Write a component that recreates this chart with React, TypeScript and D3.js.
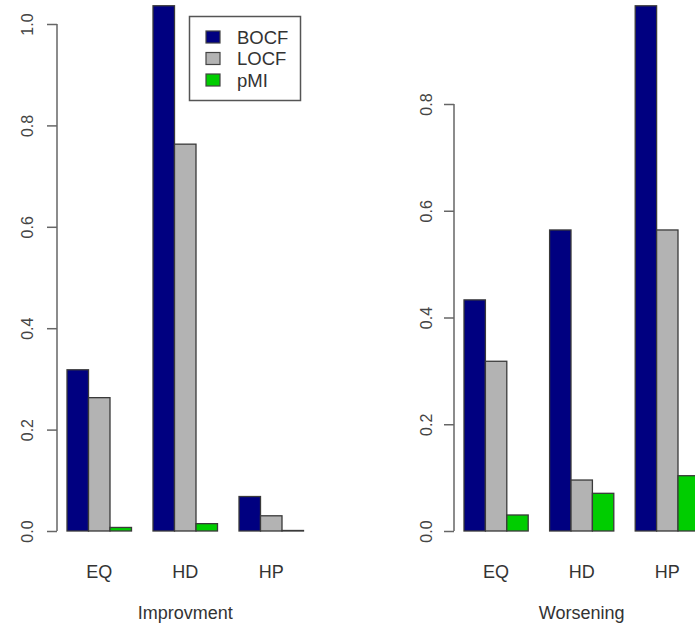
import { useEffect, useRef } from "react";
import * as d3 from "d3";

// values
const categories = ["EQ", "HD", "HP"];
const seriesNames = ["BOCF", "LOCF", "pMI"];
const seriesColors = ["#000080", "#b3b3b3", "#00cd00"];

const improvBOCF = [0.318, 1.036, 0.068];
const improvLOCF = [0.263, 0.763, 0.03];
const improvPMI = [0.007, 0.0145, 0.001];

const worsenBOCF = [0.433, 0.564, 0.984];
const worsenLOCF = [0.318, 0.0955, 0.564];
const worsenPMI = [0.03, 0.0706, 0.1036];

const leftTicks = [0, 0.2, 0.4, 0.6, 0.8, 1.0];
const rightTicks = [0, 0.2, 0.4, 0.6, 0.8];

const W = 695;
const H = 626;
const FONT = "'Liberation Sans', Arial, sans-serif";

function drawPanel(g, opts) {
  const { x0, x1, yTop, yMax, ticks, series, title, labelX, labelOff } = opts;
  const base = 531;

  // R barplot: groups of 3 bars separated by one bar width
  const x = d3.scaleLinear().domain([0, 12]).range([x0, x1]);
  const y = d3.scaleLinear().domain([0, yMax]).range([base, yTop]);

  const bars = [];
  categories.forEach((c, i) => {
    series.forEach((vals, j) => {
      bars.push({ start: 1 + i * 4 + j, value: vals[i], color: seriesColors[j] });
    });
  });

  g.append("g")
    .selectAll("rect")
    .data(bars)
    .join("rect")
    .attr("x", (d) => x(d.start))
    .attr("y", (d) => y(d.value))
    .attr("width", x(1) - x(0))
    .attr("height", (d) => base - y(d.value))
    .attr("fill", (d) => d.color)
    .attr("stroke", "#3a3a3a")
    .attr("stroke-width", 1.3);

  const axis = g
    .append("g")
    .attr("transform", `translate(${labelX},0)`)
    .call(
      d3
        .axisLeft(y)
        .tickValues(ticks)
        .tickSize(10)
        .tickFormat(d3.format(".1f"))
    );
  axis.select(".domain")
    .attr("d", `M0,${y(ticks[0])}V${y(ticks[ticks.length - 1])}`)
    .attr("stroke", "#666")
    .attr("stroke-width", 1.5);
  axis.selectAll(".tick line").attr("stroke", "#666").attr("stroke-width", 1.5);
  axis
    .selectAll(".tick text")
    .attr("transform", "rotate(-90)")
    .attr("x", 0)
    .attr("y", labelOff)
    .attr("dy", 0)
    .attr("text-anchor", "middle")
    .attr("fill", "#444")
    .style("font-family", FONT)
    .style("font-size", "16px");

  g.append("g")
    .selectAll("text")
    .data(categories)
    .join("text")
    .attr("x", (d, i) => x(2.5 + i * 4))
    .attr("y", 578)
    .attr("text-anchor", "middle")
    .attr("fill", "#333")
    .style("font-family", FONT)
    .style("font-size", "18px")
    .text((d) => d);

  g.append("text")
    .attr("x", x(6.5))
    .attr("y", 619)
    .attr("text-anchor", "middle")
    .attr("fill", "#333")
    .style("font-family", FONT)
    .style("font-size", "18px")
    .text(title);
}

export default function App() {
  const ref = useRef(null);

  useEffect(() => {
    const svg = d3.select(ref.current);
    svg.selectAll("*").remove();

    drawPanel(svg.append("g"), {
      x0: 45.5,
      x1: 303.5,
      yTop: 24,
      yMax: 1,
      ticks: leftTicks,
      series: [improvBOCF, improvLOCF, improvPMI],
      title: "Improvment",
      labelX: 57,
      labelOff: -24,
    });

    drawPanel(svg.append("g"), {
      x0: 442.6,
      x1: 699.4,
      yTop: 104,
      yMax: 0.8,
      ticks: rightTicks,
      series: [worsenBOCF, worsenLOCF, worsenPMI],
      title: "Worsening",
      labelX: 454,
      labelOff: -22,
    });

    // legend
    const lg = svg.append("g");
    lg.append("rect")
      .attr("x", 189.5)
      .attr("y", 16.5)
      .attr("width", 111)
      .attr("height", 84)
      .attr("fill", "white")
      .attr("stroke", "#555")
      .attr("stroke-width", 1.5);
    const rows = lg
      .selectAll("g.row")
      .data(seriesNames)
      .join("g")
      .attr("class", "row")
      .attr("transform", (d, i) => `translate(0,${37 + i * 21.5})`);
    rows
      .append("rect")
      .attr("x", 206)
      .attr("y", -6)
      .attr("width", 14)
      .attr("height", 12)
      .attr("fill", (d, i) => seriesColors[i])
      .attr("stroke", "#444")
      .attr("stroke-width", 1.2);
    rows
      .append("text")
      .attr("x", 237)
      .attr("y", 6.5)
      .attr("fill", "#333")
      .style("font-family", FONT)
      .style("font-size", "18.5px")
      .text((d) => d);
  }, []);

  return (
    <svg
      ref={ref}
      width={W}
      height={H}
      style={{ position: "absolute", left: 0, top: 0, background: "white" }}
    />
  );
}
